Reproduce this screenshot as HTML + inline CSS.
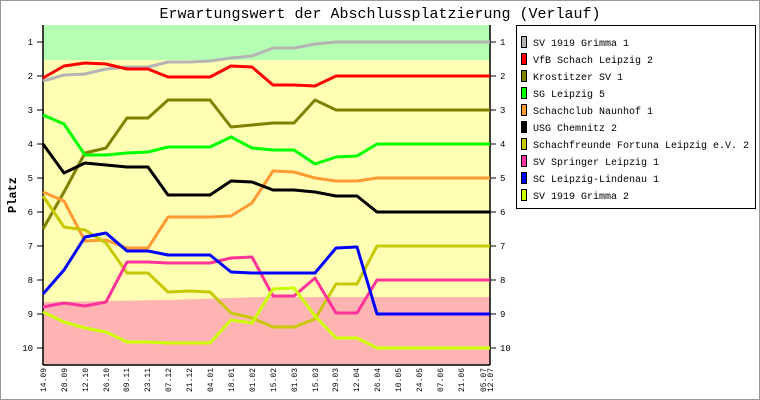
<!DOCTYPE html>
<html><head><meta charset="utf-8"><style>
html,body{margin:0;padding:0;background:#fff}
svg{display:block}
text{font-family:"Liberation Mono",monospace}
</style></head><body>
<svg width="760" height="400" viewBox="0 0 760 400" xmlns="http://www.w3.org/2000/svg">
<rect x="0.5" y="0.5" width="759" height="399" fill="#fff" stroke="#999" stroke-width="1"/>
<text x="380" y="18" font-size="15" text-anchor="middle" fill="#000">Erwartungswert der Abschlussplatzierung (Verlauf)</text>
<rect x="43" y="25" width="447" height="35" fill="#b4ffb4"/>
<rect x="43" y="60" width="447" height="245" fill="#ffffb4"/>
<polygon points="43,302 170,300 230,298 260,297 490,297 490,365 43,365" fill="#ffb4b4"/>
<g stroke="#000" stroke-width="1.5" fill="none">
<line x1="43" y1="25" x2="43" y2="365"/>
<line x1="490" y1="25" x2="490" y2="365"/>
<line x1="43" y1="365" x2="490" y2="365"/>
</g>
<g stroke="#000" stroke-width="1">
<line x1="37" y1="42" x2="43" y2="42"/><line x1="37" y1="76" x2="43" y2="76"/><line x1="37" y1="110" x2="43" y2="110"/><line x1="37" y1="144" x2="43" y2="144"/><line x1="37" y1="178" x2="43" y2="178"/><line x1="37" y1="212" x2="43" y2="212"/><line x1="37" y1="246" x2="43" y2="246"/><line x1="37" y1="280" x2="43" y2="280"/><line x1="37" y1="314" x2="43" y2="314"/><line x1="37" y1="348" x2="43" y2="348"/>
<line x1="490" y1="42" x2="496" y2="42"/><line x1="490" y1="76" x2="496" y2="76"/><line x1="490" y1="110" x2="496" y2="110"/><line x1="490" y1="144" x2="496" y2="144"/><line x1="490" y1="178" x2="496" y2="178"/><line x1="490" y1="212" x2="496" y2="212"/><line x1="490" y1="246" x2="496" y2="246"/><line x1="490" y1="280" x2="496" y2="280"/><line x1="490" y1="314" x2="496" y2="314"/><line x1="490" y1="348" x2="496" y2="348"/>
</g>
<g font-size="9" fill="#000" text-anchor="end">
<text x="33" y="45">1</text><text x="33" y="79">2</text><text x="33" y="113">3</text><text x="33" y="147">4</text><text x="33" y="181">5</text><text x="33" y="215">6</text><text x="33" y="249">7</text><text x="33" y="283">8</text><text x="33" y="317">9</text><text x="33" y="351">10</text>
</g>
<g font-size="9" fill="#000">
<text x="500" y="45">1</text><text x="500" y="79">2</text><text x="500" y="113">3</text><text x="500" y="147">4</text><text x="500" y="181">5</text><text x="500" y="215">6</text><text x="500" y="249">7</text><text x="500" y="283">8</text><text x="500" y="317">9</text><text x="500" y="351">10</text>
</g>
<text transform="translate(16,195) rotate(-90)" font-size="12" font-weight="bold" text-anchor="middle">Platz</text>
<g font-size="8" fill="#000" text-anchor="start">
<text transform="translate(46,392) rotate(-90)">14.09</text>
<text transform="translate(67,392) rotate(-90)">28.09</text>
<text transform="translate(88,392) rotate(-90)">12.10</text>
<text transform="translate(109,392) rotate(-90)">26.10</text>
<text transform="translate(129,392) rotate(-90)">09.11</text>
<text transform="translate(150,392) rotate(-90)">23.11</text>
<text transform="translate(171,392) rotate(-90)">07.12</text>
<text transform="translate(192,392) rotate(-90)">21.12</text>
<text transform="translate(213,392) rotate(-90)">04.01</text>
<text transform="translate(234,392) rotate(-90)">18.01</text>
<text transform="translate(255,392) rotate(-90)">01.02</text>
<text transform="translate(276,392) rotate(-90)">15.02</text>
<text transform="translate(297,392) rotate(-90)">01.03</text>
<text transform="translate(318,392) rotate(-90)">15.03</text>
<text transform="translate(338,392) rotate(-90)">29.03</text>
<text transform="translate(359,392) rotate(-90)">12.04</text>
<text transform="translate(380,392) rotate(-90)">26.04</text>
<text transform="translate(401,392) rotate(-90)">10.05</text>
<text transform="translate(422,392) rotate(-90)">24.05</text>
<text transform="translate(443,392) rotate(-90)">07.06</text>
<text transform="translate(464,392) rotate(-90)">21.06</text>
<text transform="translate(486,392) rotate(-90)">05.07</text>
<text transform="translate(493,392) rotate(-90)">12.07</text>
</g>
<g fill="none" stroke-width="3" stroke-linejoin="round">
<polyline stroke="#b4b4b4" points="43,81 64,75 85,74 106,69 127,67 148,67 168,62 189,62 210,61 231,58 252,56 273,48 294,48 315,44 336,42 357,42 377,42 490,42"/>
<polyline stroke="#ff0000" points="43,78 64,66 85,63 106,64 127,69 148,69 168,77 189,77 210,77 231,66 252,67 273,85 294,85 315,86 336,76 357,76 377,76 490,76"/>
<polyline stroke="#808000" points="43,229 64,192 85,153 106,148 127,118 148,118 168,100 189,100 210,100 231,127 252,125 273,123 294,123 315,100 336,110 357,110 377,110 490,110"/>
<polyline stroke="#00ff00" points="43,115 64,124 85,155 106,155 127,153 148,152 168,147 189,147 210,147 231,137 252,148 273,150 294,150 315,164 336,157 357,156 377,144 490,144"/>
<polyline stroke="#ff9933" points="43,192 64,201 85,241 106,240 127,248 148,248 168,217 189,217 210,217 231,216 252,203 273,171 294,172 315,178 336,181 357,181 377,178 490,178"/>
<polyline stroke="#000000" points="43,144 64,173 85,163 106,165 127,167 148,167 168,195 189,195 210,195 231,181 252,182 273,190 294,190 315,192 336,196 357,196 377,212 490,212"/>
<polyline stroke="#c8c800" points="43,196 64,227 85,230 106,243 127,273 148,273 168,292 189,291 210,292 231,313 252,318 273,327 294,327 315,319 336,284 357,284 377,246 490,246"/>
<polyline stroke="#ff3399" points="43,307 64,303 85,306 106,302 127,262 148,262 168,263 189,263 210,263 231,258 252,257 273,296 294,296 315,278 336,313 357,313 377,280 490,280"/>
<polyline stroke="#0000ff" points="43,294 64,270 85,237 106,233 127,251 148,251 168,255 189,255 210,255 231,272 252,273 273,273 294,273 315,273 336,248 357,247 377,314 490,314"/>
<polyline stroke="#ccff00" points="43,312 64,322 85,328 106,332 127,342 148,342 168,343 189,343 210,343 231,320 252,323 273,289 294,288 315,316 336,338 357,338 377,348 490,348"/>
</g>
<rect x="516.5" y="25.5" width="239" height="183" fill="#fff" stroke="#000" stroke-width="1"/>
<g stroke="#000" stroke-width="1">
<rect x="521.5" y="36.5" width="5" height="11" fill="#b4b4b4"/>
<rect x="521.5" y="53.5" width="5" height="11" fill="#ff0000"/>
<rect x="521.5" y="70.5" width="5" height="11" fill="#808000"/>
<rect x="521.5" y="87.5" width="5" height="11" fill="#00ff00"/>
<rect x="521.5" y="104.5" width="5" height="11" fill="#ff9933"/>
<rect x="521.5" y="121.5" width="5" height="11" fill="#000000"/>
<rect x="521.5" y="138.5" width="5" height="11" fill="#c8c800"/>
<rect x="521.5" y="155.5" width="5" height="11" fill="#ff3399"/>
<rect x="521.5" y="172.5" width="5" height="11" fill="#0000ff"/>
<rect x="521.5" y="189.5" width="5" height="11" fill="#ccff00"/>
</g>
<g font-size="10" fill="#000">
<text x="533" y="46">SV 1919 Grimma 1</text>
<text x="533" y="63">VfB Schach Leipzig 2</text>
<text x="533" y="80">Krostitzer SV 1</text>
<text x="533" y="97">SG Leipzig 5</text>
<text x="533" y="114">Schachclub Naunhof 1</text>
<text x="533" y="131">USG Chemnitz 2</text>
<text x="533" y="148">Schachfreunde Fortuna Leipzig e.V. 2</text>
<text x="533" y="165">SV Springer Leipzig 1</text>
<text x="533" y="182">SC Leipzig-Lindenau 1</text>
<text x="533" y="199">SV 1919 Grimma 2</text>
</g>
</svg>
</body></html>
